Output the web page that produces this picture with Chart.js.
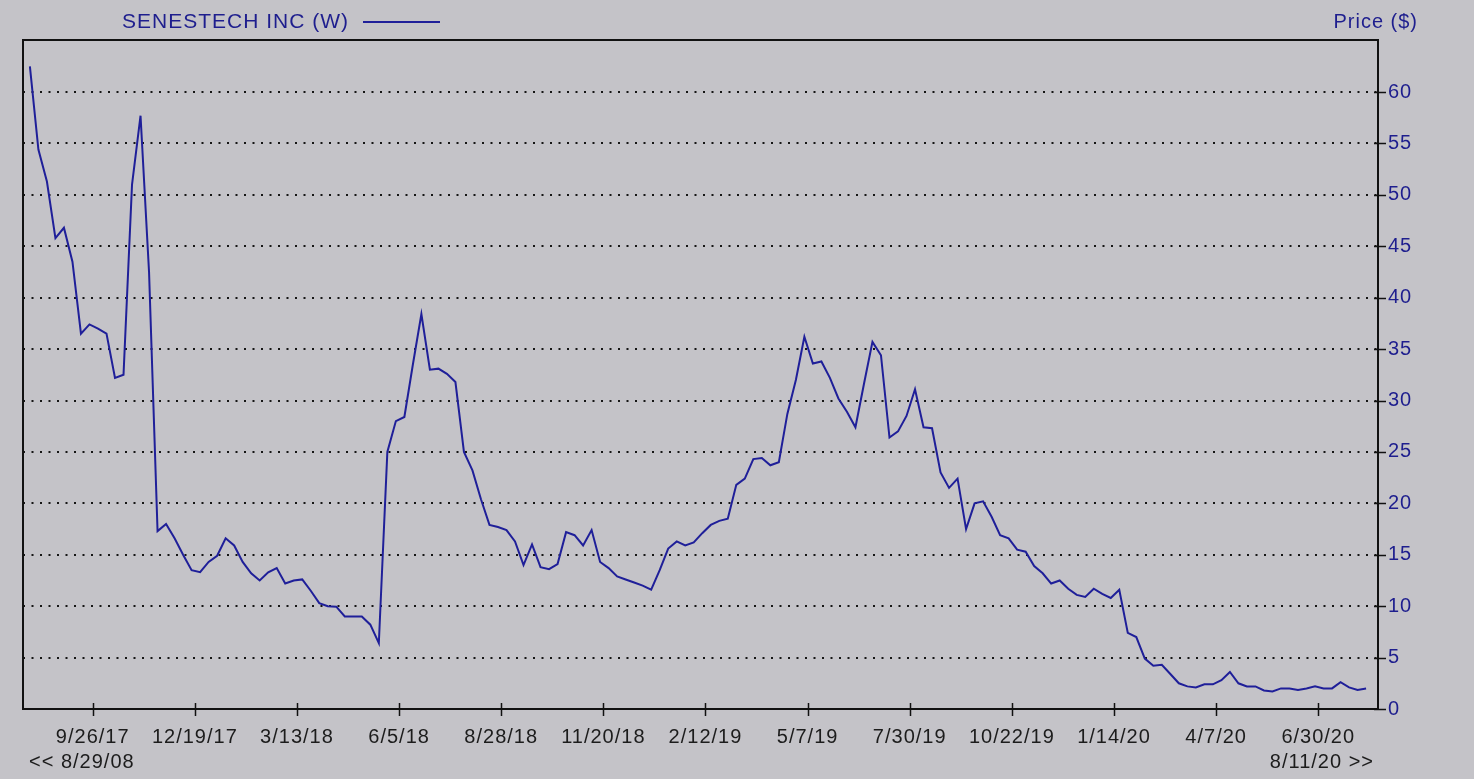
<!DOCTYPE html>
<html>
<head>
<meta charset="utf-8">
<title>SENESTECH INC (W)</title>
<script src="https://cdn.jsdelivr.net/npm/chart.js@4.4.1/dist/chart.umd.min.js"></script>
<style>
  html, body { margin: 0; padding: 0; background: #c4c3c8; }
</style>
</head>
<body>
<canvas id="priceChart" width="1474" height="779"></canvas>
<script>
// Serie semanal, un precio por semana
const seriesName = 'SENESTECH INC (W)';
const axisTitle = 'Price ($)';

const prices = [
  62.5, 54.4, 51.3, 45.8, 46.8, 43.5, 36.5, 37.4, 37.0, 36.5,
  32.2, 32.5, 51.0, 57.7, 42.5, 17.3, 18.0, 16.6, 15.0, 13.5,
  13.3, 14.3, 14.9, 16.6, 15.9, 14.3, 13.2, 12.5, 13.3, 13.7,
  12.2, 12.5, 12.6, 11.5, 10.3, 10.0, 9.95, 9.0, 9.0, 9.0,
  8.2, 6.4, 25.0, 28.0, 28.4, 33.5, 38.4, 33.0, 33.1, 32.6,
  31.8, 25.0, 23.2, 20.4, 17.9, 17.7, 17.4, 16.3, 14.0, 16.0,
  13.8, 13.6, 14.1, 17.2, 16.9, 15.9, 17.4, 14.3, 13.7, 12.9,
  12.6, 12.3, 12.0, 11.6, 13.5, 15.6, 16.3, 15.9, 16.2, 17.1,
  17.9, 18.3, 18.5, 21.8, 22.4, 24.3, 24.4, 23.7, 24.0, 28.7,
  32.0, 36.2, 33.6, 33.8, 32.2, 30.2, 28.9, 27.4, 31.6, 35.7,
  34.4, 26.4, 27.0, 28.5, 31.1, 27.4, 27.3, 23.0, 21.5, 22.4,
  17.5, 20.0, 20.2, 18.7, 16.9, 16.6, 15.5, 15.3, 13.9, 13.2,
  12.2, 12.5, 11.7, 11.1, 10.9, 11.7, 11.2, 10.8, 11.6, 7.4,
  7.0, 4.9, 4.2, 4.3, 3.4, 2.5, 2.2, 2.1, 2.4, 2.4,
  2.8, 3.6, 2.5, 2.2, 2.2, 1.8, 1.7, 2.0, 2.0, 1.85,
  2.0, 2.2, 2.0, 2.0, 2.6, 2.1, 1.85, 2.0
];

const tickLabels = ['9/26/17', '12/19/17', '3/13/18', '6/5/18', '8/28/18', '11/20/18',
  '2/12/19', '5/7/19', '7/30/19', '10/22/19', '1/14/20', '4/7/20', '6/30/20'];
const yTicks = [0, 5, 10, 15, 20, 25, 30, 35, 40, 45, 50, 55, 60];
const rangeStart = '<< 8/29/08';
const rangeEnd = '8/11/20 >>';

// Colores y fuente
const bgColor = '#c4c3c8';
const lineColor = '#1f1f99';
const blueText = '#1e1e8e';
const darkText = '#1c1c1c';
const fontFamily = '"Liberation Sans", Arial, sans-serif';

// Las marcas del eje X caen entre semanas: 7.38 semanas tras el primer punto, luego cada 12
const firstTickAt = 7.38;
const weeksPerTick = 12;

const points = prices.map((v, i) => ({ x: i, y: v }));

const framePlugin = {
  id: 'frame',
  beforeDraw(chart) {
    const { ctx, width, height } = chart;
    ctx.save();
    ctx.fillStyle = bgColor;
    ctx.fillRect(0, 0, width, height);
    ctx.restore();
    ctx.letterSpacing = '1px';
  },
  afterDraw(chart) {
    const { ctx, chartArea: a, scales: { x, y } } = chart;
    ctx.save();
    ctx.letterSpacing = '1px';

    // borde del área de trazado
    ctx.strokeStyle = '#111111';
    ctx.lineWidth = 2;
    ctx.strokeRect(a.left, a.top, a.right - a.left, a.bottom - a.top);

    // marcas de los ejes
    ctx.lineWidth = 1.5;
    ctx.beginPath();
    x.ticks.forEach(t => {
      const px = Math.round(x.getPixelForValue(t.value)) + 0.5;
      ctx.moveTo(px, a.bottom - 6);
      ctx.lineTo(px, a.bottom + 7);
    });
    y.ticks.forEach(t => {
      const py = Math.round(y.getPixelForValue(t.value)) + 0.5;
      ctx.moveTo(a.right - 4, py);
      ctx.lineTo(a.right + 8, py);
    });
    ctx.stroke();

    // título con muestra de línea
    ctx.font = '21px ' + fontFamily;
    ctx.fillStyle = blueText;
    ctx.textBaseline = 'middle';
    ctx.textAlign = 'left';
    ctx.fillText(seriesName, 122, 22);
    const tw = ctx.measureText(seriesName).width;
    ctx.strokeStyle = chart.data.datasets[0].borderColor;
    ctx.lineWidth = 2;
    ctx.beginPath();
    ctx.moveTo(122 + tw + 14, 22);
    ctx.lineTo(122 + tw + 91, 22);
    ctx.stroke();

    ctx.font = '20px ' + fontFamily;
    ctx.textAlign = 'right';
    ctx.fillText(axisTitle, 1418, 22);

    // rango de fechas
    ctx.fillStyle = darkText;
    ctx.textAlign = 'left';
    ctx.fillText(rangeStart, 29, 762);
    ctx.textAlign = 'right';
    ctx.fillText(rangeEnd, 1374, 762);
    ctx.restore();
  }
};

new Chart(document.getElementById('priceChart'), {
  type: 'line',
  data: {
    datasets: [{
      label: seriesName,
      data: points,
      borderColor: lineColor,
      borderWidth: 2,
      pointRadius: 0,
      tension: 0,
      fill: false
    }]
  },
  options: {
    responsive: false,
    devicePixelRatio: 1,
    animation: false,
    layout: { padding: { left: 23, top: 40, right: 0, bottom: 0 } },
    plugins: {
      legend: { display: false },
      tooltip: { enabled: false }
    },
    scales: {
      x: {
        type: 'linear',
        min: -0.81,
        max: 158.4,
        afterBuildTicks: (scale) => {
          scale.ticks = tickLabels.map((_, m) => ({ value: firstTickAt + weeksPerTick * m }));
        },
        afterFit: (scale) => { scale.height = 70; },
        grid: { display: false },
        border: { display: false },
        ticks: {
          autoSkip: false,
          maxRotation: 0,
          padding: 8,
          color: darkText,
          font: { family: fontFamily, size: 20 },
          callback: (value, index) => tickLabels[index]
        }
      },
      y: {
        position: 'right',
        min: 0,
        max: 65.06,
        afterBuildTicks: (scale) => {
          scale.ticks = yTicks.map(v => ({ value: v }));
        },
        afterFit: (scale) => { scale.width = 96; },
        grid: {
          drawTicks: false,
          lineWidth: 2,
          color: (c) => (c.tick && c.tick.value === 0) ? 'rgba(0,0,0,0)' : '#151515'
        },
        border: { display: false, dash: [2, 6.5] },
        ticks: {
          padding: 10,
          color: blueText,
          font: { family: fontFamily, size: 20 }
        }
      }
    }
  },
  plugins: [framePlugin]
});
</script>
</body>
</html>
